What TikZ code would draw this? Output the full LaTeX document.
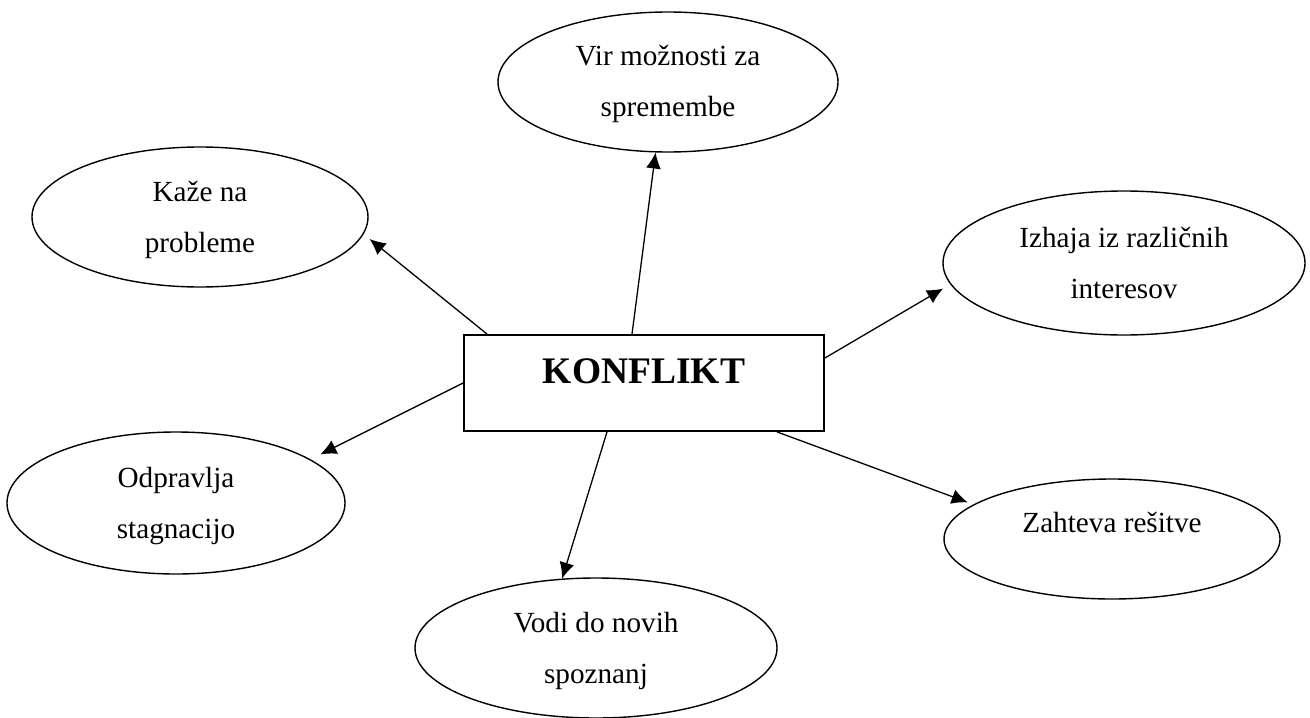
\documentclass[tikz,border=0pt]{standalone}
\usepackage{fontspec}
\setmainfont{Liberation Serif}
\usetikzlibrary{shapes.geometric,arrows.meta}
\tikzset{
  idea/.style={draw,ellipse,line width=0.7pt,inner sep=0pt,align=center,
    font=\fontsize{14.6}{25.5}\selectfont,text height=38pt,text depth=3pt},
  arr/.style={line width=0.65pt,-{Latex[length=8pt,width=7.5pt]}}
}
\begin{document}
\begin{tikzpicture}[x=0.5pt,y=-0.5pt]
\useasboundingbox (0,0) rectangle (1310,717);
\node[draw,line width=0.9pt,minimum width=180pt,minimum height=48pt,inner sep=0pt,
  font=\fontsize{18.75}{22}\selectfont\bfseries,text height=12.5pt,text depth=12.5pt] (konflikt) at (644,383) {KONFLIKT};
\node[idea,minimum width=170pt,minimum height=70pt] (vir) at (668,82) {Vir možnosti za\\spremembe};
\node[idea,minimum width=168pt,minimum height=70pt] (kaze) at (200,217) {Kaže na\\probleme};
\node[idea,minimum width=181pt,minimum height=72pt] (izhaja) at (1124,263) {Izhaja iz različnih\\interesov};
\node[idea,minimum width=169pt,minimum height=71pt] (odpr) at (176,503) {Odpravlja\\stagnacijo};
\node[idea,minimum width=168pt,minimum height=60pt,text height=10pt,text depth=17pt] (zahteva) at (1112,539) {Zahteva rešitve};
\node[idea,minimum width=181pt,minimum height=70pt] (vodi) at (596,648) {Vodi do novih\\spoznanj};
\draw[arr] ([xshift=-6pt]konflikt.north) -- (vir.260);
\draw[arr,shorten >=3.8pt] ([xshift=12pt]konflikt.north west) -- (kaze.354);
\draw[arr,shorten >=4.2pt] ([yshift=12.5pt]konflikt.east) -- (izhaja.187);
\draw[arr,shorten >=5.5pt] (konflikt.west) -- (odpr.18);
\draw[arr,shorten >=3pt] ([xshift=66.5pt]konflikt.south) -- (zahteva.166);
\draw[arr] ([xshift=-18.5pt]konflikt.south) -- (vodi.116);
\end{tikzpicture}
\end{document}
